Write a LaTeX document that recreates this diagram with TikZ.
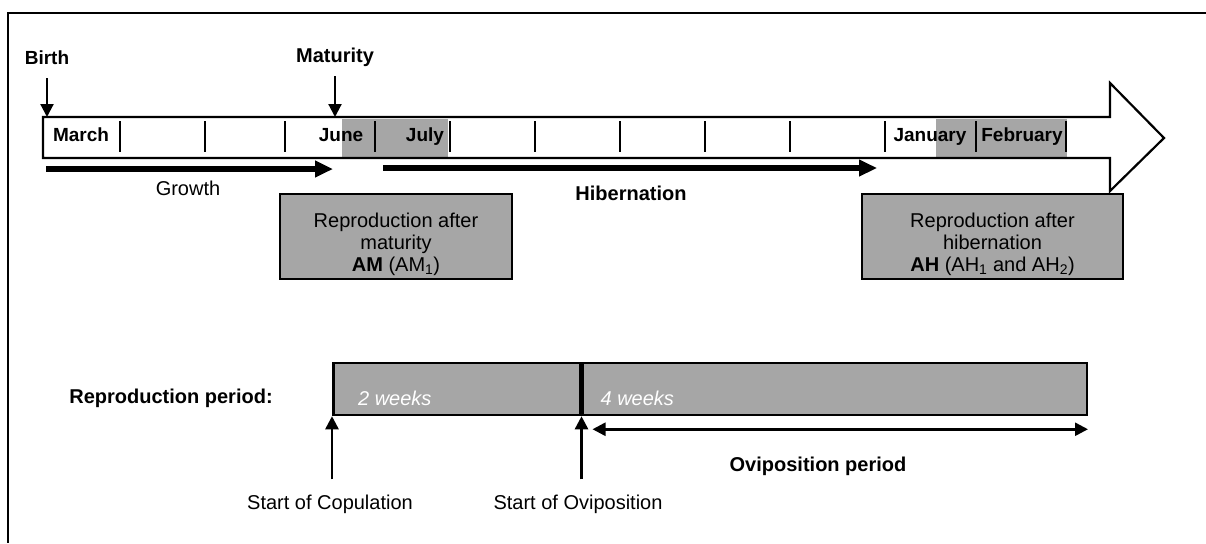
\documentclass[tikz,border=0pt]{standalone}
\usepackage{fontspec}
\setmainfont{Liberation Sans}
\usetikzlibrary{arrows.meta,positioning,calc}
\definecolor{boxgray}{HTML}{A6A6A6}

\begin{document}
\begin{tikzpicture}[x=1pt, y=-1pt, line width=2.2pt, >={Triangle[length=13pt,width=13pt]},
    every node/.style={inner sep=0pt, font=\fontsize{20}{22}\selectfont},
    month/.style={anchor=base, font=\fontsize{19}{22}\selectfont\bfseries},
    heading/.style={anchor=base, font=\fontsize{20}{22}\selectfont\bfseries},
    caption/.style={anchor=base},
    span/.style={line width=5.5pt, -{Triangle[length=18pt,width=16pt]}},
    repbox/.style={draw, line width=2.5pt, fill=boxgray, minimum height=85pt},
    period/.style={draw, line width=2.5pt, fill=boxgray, minimum height=52pt, anchor=west},
    weeks/.style={anchor=base west, text=white, font=\fontsize{20}{22}\selectfont\itshape}]
\useasboundingbox (0,0) rectangle (1206,543);
\draw[line width=1.5pt] (1206,13) -- (8,13) -- (8,543);

% time line
\fill[boxgray] (342,119) rectangle (448,157);
\fill[boxgray] (936,119) rectangle (1067,157);
\draw[line join=miter] (43,117) -- (1110,117) -- (1110,83) -- (1164,138) -- (1110,191) -- (1110,158) -- (43,158) -- cycle;
\draw (120,121) -- (120,152) (205,121) -- (205,152) (285,121) -- (285,152) (375,121) -- (375,152)
  (450,121) -- (450,152) (535,121) -- (535,152) (620,121) -- (620,152) (705,121) -- (705,152)
  (790,121) -- (790,152) (885,121) -- (885,152) (976,121) -- (976,152) (1066,121) -- (1066,152);
\coordinate (tltop) at (43,117);
\node[month] (march) at (81,141) {March};
\node[month] (june) at (341,141) {June};
\node[month] (july) at (425,141) {July};
\node[month] (january) at (930,141) {January};
\node[month] (february) at (1022,141) {February};

\node[month] (birth) at (47,64) {Birth};
\node[heading] (maturity) at (335,63) {Maturity};
\draw[->] ([yshift=-14pt]birth.base) -- (birth.base |- tltop);
\draw[->] ([yshift=-13pt]maturity.base) -- (maturity.base |- tltop);

\coordinate (growstart) at (46,169);
\coordinate (growend) at (333,169);
\coordinate (hibstart) at (383,168);
\coordinate (hibend) at (877,168);
\draw[span] (growstart) -- (growend);
\draw[span] (hibstart) -- (hibend);
\node[caption] (growth) at (188,195) {Growth};
\node[heading] (hibernation) at (631,200) {Hibernation};

\node[repbox, minimum width=232pt] (am) at (396,236.5) {};
\node[align=center] (amtext) at ([yshift=-8pt]am.center) {Reproduction after\\maturity\\\textbf{AM} (AM\textsubscript{1})};
\node[repbox, minimum width=261pt] (ah) at (992.5,236.5) {};
\node[align=center] (ahtext) at ([yshift=-8pt]ah.center) {Reproduction after\\hibernation\\\textbf{AH} (AH\textsubscript{1} and AH\textsubscript{2})};

% reproduction period
\node[heading] (repperiod) at (171,403) {Reproduction period:};
\node[period, minimum width=247pt] (cop) at (332,389) {};
\node[period, minimum width=504pt] (ovi) at (cop.east) {};
\node[weeks] (twoweeks) at ($(cop.west)+(25,16)$) {2 weeks};
\node[weeks] (fourweeks) at ($(ovi.west)+(18,16)$) {4 weeks};
\node[caption] (copstart) at (330,509) {Start of Copulation};
\node[caption] (ovistart) at (578,509) {Start of Oviposition};
\draw[->, line width=2.5pt, shorten <=14pt] (cop.south west |- copstart.north) -- (cop.south west);
\draw[->, line width=2.5pt, shorten <=14pt] (ovi.south west |- ovistart.north) -- (ovi.south west);
\draw[<->, line width=2.5pt] ([xshift=11pt,yshift=-13pt]ovi.south west) -- ([yshift=-13pt]ovi.south east);
\node[heading] (ovperiod) at (818,471) {Oviposition period};
\end{tikzpicture}
\end{document}
